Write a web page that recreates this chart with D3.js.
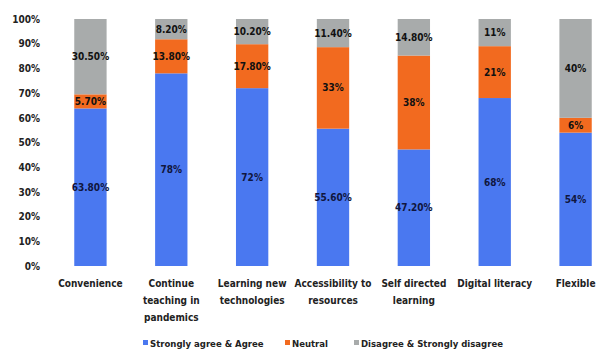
<!DOCTYPE html>
<html>
<head>
<meta charset="utf-8">
<script src="https://cdn.jsdelivr.net/npm/d3@7"></script>
<style>
  html, body { margin: 0; padding: 0; background: #fff; }
  svg text { font-family: "DejaVu Sans Condensed", "DejaVu Sans", sans-serif; font-weight: bold; font-stretch: condensed; }
</style>
</head>
<body>
<svg id="chart" width="597" height="351"></svg>
<script>
// Survey categories (multi-line labels split on "\n")
const categories = [
  "Convenience",
  "Continue\nteaching in\npandemics",
  "Learning new\ntechnologies",
  "Accessibility to\nresources",
  "Self directed\nlearning",
  "Digital literacy",
  "Flexible"
];
const seriesNames = ["Strongly agree & Agree", "Neutral", "Disagree & Strongly disagree"];
const agree    = [63.80, 78, 72, 55.60, 47.20, 68, 54];
const neutral  = [5.70, 13.80, 17.80, 33, 38, 21, 6];
const disagree = [30.50, 8.20, 10.20, 11.40, 14.80, 11, 40];
const valueLabels = [
  ["63.80%", "78%", "72%", "55.60%", "47.20%", "68%", "54%"],
  ["5.70%", "13.80%", "17.80%", "33%", "38%", "21%", "6%"],
  ["30.50%", "8.20%", "10.20%", "11.40%", "14.80%", "11%", "40%"]
];
const yTicks = [0, 10, 20, 30, 40, 50, 60, 70, 80, 90, 100];
const colors = ["#4a78f0", "#f26a1f", "#a8abab"];

const svg = d3.select("#chart");

const x = d3.scaleBand().domain(categories).range([50, 616]).paddingInner(0.6).paddingOuter(0.3);
const y = d3.scaleLinear().domain([0, 100]).range([266, 19]);

const rows = categories.map((c, i) => ({ cat: c, i, agree: agree[i], neutral: neutral[i], disagree: disagree[i] }));
const stack = d3.stack().keys(["agree", "neutral", "disagree"]);
const layers = stack(rows);

// Y axis (labels only)
const yAxis = d3.axisLeft(y).tickValues(yTicks).tickFormat(d => d + "%").tickSize(0).tickPadding(0);
const yg = svg.append("g").attr("transform", "translate(40,0)").call(yAxis);
yg.select(".domain").remove();
yg.selectAll("text").attr("font-size", 10).attr("fill", "#222")
  .style("font-family", "'DejaVu Sans Condensed', 'DejaVu Sans', sans-serif").style("font-weight", "bold");

// Stacked bars
layers.forEach((layer, k) => {
  svg.append("g").selectAll("rect").data(layer).join("rect")
    .attr("x", d => x(d.data.cat))
    .attr("width", x.bandwidth())
    .attr("y", d => y(d[1]))
    .attr("height", d => y(d[0]) - y(d[1]))
    .attr("fill", colors[k]);
});

// Segment value labels
layers.forEach((layer, k) => {
  svg.append("g").selectAll("text").data(layer).join("text")
    .attr("x", d => x(d.data.cat) + x.bandwidth() / 2)
    .attr("y", d => (y(d[0]) + y(d[1])) / 2)
    .attr("dy", "0.35em")
    .attr("text-anchor", "middle")
    .attr("font-size", 10)
    .attr("fill", k === 0 ? "#10163e" : "#111")
    .text((d, i) => valueLabels[k][i]);
});

// Category labels
const xg = svg.append("g");
categories.forEach(c => {
  const t = xg.append("text")
    .attr("x", x(c) + x.bandwidth() / 2)
    .attr("y", 287)
    .attr("text-anchor", "middle")
    .attr("font-size", 10)
    .attr("fill", "#222");
  c.split("\n").forEach((line, j) => {
    t.append("tspan").attr("x", x(c) + x.bandwidth() / 2).attr("dy", j === 0 ? 0 : 17).text(line);
  });
});

// Legend
const legendX = [143, 285, 354];
const lg = svg.append("g");
seriesNames.forEach((name, k) => {
  lg.append("rect").attr("x", legendX[k]).attr("y", 340).attr("width", 5).attr("height", 5).attr("fill", colors[k]);
  lg.append("text").attr("x", legendX[k] + 7).attr("y", 346.5).attr("font-size", 9.5).attr("fill", "#222").text(name);
});
</script>
</body>
</html>
